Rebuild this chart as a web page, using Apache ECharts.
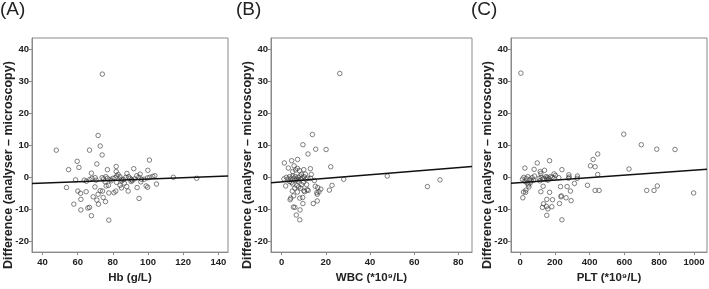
<!DOCTYPE html>
<html>
<head>
<meta charset="utf-8">
<script src="https://cdn.jsdelivr.net/npm/echarts@6/dist/echarts.min.js"></script>
<style>
  html, body { margin: 0; padding: 0; background: #fff; }
  #chart { width: 709px; height: 289px; }
</style>
</head>
<body>
<div id="chart"></div>
<script>
// panel titles and axis names
const panelTitles = ['(A)', '(B)', '(C)'];
const xNames = ['Hb (g/L)', 'WBC (*10⁹/L)', 'PLT (*10⁹/L)'];
const yName = 'Difference (analyser – microscopy)';

// tick labels
const yTicks = [-20, -10, 0, 10, 20, 30, 40];
const xTicksA = [40, 60, 80, 100, 120, 140];
const xTicksB = [0, 20, 40, 60, 80];
const xTicksC = [0, 200, 400, 600, 800, 1000];

// axis extents
const yRange = [-23.4, 43.6];
const xRangeA = [34, 145.5];
const xRangeB = [-4.85, 86.2];
const xRangeC = [-53, 1075];

// Hb vs difference
const hbPoints = [
  [74, 32.3], [47.8, 8.5], [66.7, 8.5], [71.6, 13.1], [72.8, 9.8], [73.9, 7.0], [70.9, 4.2],
  [59.7, 5.0], [60.7, 3.1], [54.8, 2.4], [100.8, 5.4], [91.9, 2.7], [81.9, 3.4], [81.9, 1.8],
  [76.9, 2.4], [67.8, 1.3], [99.9, 2.2], [58.8, -0.8], [63.7, -0.9], [66.9, -0.7], [68.1, -0.3],
  [69.9, -0.1], [73.9, -0.1], [74.7, -0.5], [76.0, 0.2], [76.9, -0.3], [78.5, -0.7], [80, -0.3],
  [81.3, -0.1], [82.3, 0.4], [83, 0.9], [84, 0.2], [84.9, -0.6], [86, -0.7], [87.4, 0],
  [88.9, 0.2], [89.7, -0.3], [90.6, -0.7], [92.3, -0.5], [93.6, 0.5], [94.8, 0], [96.3, -0.6],
  [97.8, -0.6], [99.7, -0.2], [101, 0], [102.7, 0.3], [103.9, 0.5], [114.4, 0], [127.7, -0.3],
  [53.6, -3.2], [60.1, -4.3], [61.6, -5.0], [61.8, -6.9], [64.8, -4.5], [57.8, -8.4], [61.8, -10.2],
  [65.8, -9.6], [66.7, -9.4], [67.8, -12], [77.7, -13.4], [68.8, -6.1], [69.8, -3.0], [70.9, -7.1],
  [71.6, -5.3], [71.8, -8.4], [72.8, -4.2], [74.1, -4.3], [74.5, -6.3], [75.8, -7.6], [76.2, -2.7],
  [77.5, -2.5], [77.7, -4.9], [80.6, -4.8], [81.7, -4.3], [84.1, -2.5], [84.9, -3.3], [87.9, -2.9],
  [88.7, -4.3], [90.4, -1.3], [93.8, -3.2], [94.9, -6.6], [95.9, -1.4], [98.9, -2.7], [99.8, -3.1],
  [104.8, -2.1], [75.6, -1.4], [82.1, -1.6], [79, -1.1], [86.5, -1.8], [91, -1.0], [70.5, -0.9],
  [65, -1.2], [95.5, 1.0], [88, 1.2], [85, -1.1]
];

// WBC vs difference
const wbcPoints = [
  [26.3, 32.5], [13.9, 13.4], [9.6, 10.2], [15.4, 8.8], [20.1, 8.7], [11.9, 7.3], [7.2, 5.6],
  [4.5, 5.2], [1.2, 4.5], [3.0, 2.9], [5.6, 3.6], [6.3, 2.3], [7.1, 2.8], [10, 2.4], [13, 2.7],
  [13.4, 0.9], [22.2, 3.3], [5.0, 1.8], [8.0, 2.1], [10.7, 1.0], [28.1, -0.6], [47.8, 0.4],
  [66, -2.9], [71.7, -0.8],
  [1.0, -0.5], [2.1, 0], [2.9, -0.5], [3.6, 0.2], [4.2, -0.5], [5.0, 0.4], [5.6, -0.3], [6.2, 0.2],
  [6.8, -0.6], [7.5, 0], [8.3, 0.4], [8.6, -0.6], [9.2, -0.2], [10.1, 0.2], [10.9, -0.6],
  [11.8, -0.3], [13.1, -0.3], [14.8, -1.0], [1.8, -2.7], [3.6, -1.3], [5.0, -2.1], [5.9, -3.4],
  [6.9, -2.6], [7.7, -3.0], [8.6, -3.4], [9.1, -2.3], [10, -4.2], [11.3, -2.3], [11.5, -3.9],
  [15.2, -2.8], [16.3, -3.2], [16.9, -4.5], [17.7, -3.7], [15.9, -4.8], [21.6, -4.0], [22.8, -2.5],
  [4.8, -4.3], [5.4, -5.8], [4.1, -6.5], [3.8, -7.0], [7.1, -4.6], [8.2, -6.5], [9.5, -6.3],
  [10.4, -4.5], [16.1, -5.3], [9.6, -8.2], [14.3, -8.2], [16.1, -7.4], [5.3, -9.3], [6.0, -9.4],
  [8.3, -10.2], [6.6, -11.8], [8.2, -13.3], [12, -4.1], [7.4, -1.2], [4.4, -1.6], [9.8, -1.5],
  [6.5, -0.9], [8.9, 0.9]
];

// PLT vs difference
const pltPoints = [
  [4, 32.6], [596, 13.5], [697, 10.2], [786, 8.8], [891, 8.7], [446, 7.3], [420, 5.6], [404, 3.6],
  [431, 3.3], [446, 0.9], [626, 2.6], [169, 5.2], [98, 4.5], [27, 2.9], [80, 2.5], [240, 2.4],
  [140, 2.2], [115, 1.8], [119, 1.2], [195, 1.1], [280, 0.8], [282, 0.1], [329, 0.4],
  [387, -2.5], [431, -4.1], [454, -4.1], [728, -4.1], [770, -4.1], [789, -2.7], [998, -4.9],
  [15, -6.4], [240, -13.3], [153, -11.9], [293, -7.3], [236, -5.8], [235, -6.1], [33, -4.0],
  [31, -4.7], [19, -4.6], [50, -3.0], [57, -1.8], [13, -0.6], [21, 0], [34, -0.4], [44, 0.2],
  [56, -0.6], [69, -0.1], [77, -0.9], [82, 0.4], [109, -0.3], [121, 0], [130, -0.5], [148, 0.2],
  [157, 0], [165, -0.4], [174, 0.2], [184, 0], [194, -0.3], [203, 0.6], [222, -0.1], [278, -0.3],
  [328, -0.3], [132, -2.8], [119, -4.5], [169, -4.7], [232, -2.9], [270, -2.9], [289, -4.3],
  [312, -1.9], [153, -6.9], [186, -7.0], [264, -6.4], [151, -9.1], [134, -8.3], [128, -9.4],
  [182, -9.2], [226, -8.2], [159, -9.9], [27, -1.3], [40, -1.8], [63, -1.1], [138, -0.4],
  [160, -0.9], [152, -0.6], [47, -2.4], [113, -1.1]
];

// fitted lines, end points at the frame edges
const fitA = [[34, -1.95], [145.5, 0.4]];
const fitB = [[-4.85, -1.7], [86.2, 3.4]];
const fitC = [[-53, -1.85], [1075, 2.55]];

const font = 'Liberation Sans';
const tickFont = 'Liberation Sans Narrow, Liberation Sans';
const axisGray = '#8a8a8a';
const textCol = '#222';

const grids = [
  { left: 32, right: 481, top: 38, bottom: 33 },
  { left: 271, right: 237, top: 38, bottom: 33 },
  { left: 511, right: 2, top: 38, bottom: 33 }
];

function xAxisFor (i, range, ticks) {
  return {
    type: 'value',
    gridIndex: i,
    min: range[0],
    max: range[1],
    name: xNames[i],
    nameLocation: 'middle',
    nameGap: 19,
    nameTextStyle: { fontFamily: font, fontWeight: 'bold', fontSize: 11.5, color: textCol },
    axisLine: { show: true, onZero: false, lineStyle: { color: axisGray } },
    axisTick: { show: true, length: 3, customValues: ticks, lineStyle: { color: axisGray } },
    axisLabel: {
      customValues: ticks, margin: 5,
      formatter: v => String(v),
      fontFamily: tickFont, fontWeight: 'bold', fontSize: 9.5, color: textCol
    },
    splitLine: { show: false }
  };
}

function yAxisFor (i) {
  return {
    type: 'value',
    gridIndex: i,
    min: yRange[0],
    max: yRange[1],
    name: yName,
    nameLocation: 'middle',
    nameGap: 17,
    nameMoveOverlap: false,
    nameTextStyle: {
      fontFamily: font, fontWeight: 'bold', fontSize: 12.5, color: textCol,
      padding: [0, 40, 0, 0]
    },
    axisLine: { show: true, onZero: false, lineStyle: { color: axisGray } },
    axisTick: { show: true, length: 3, customValues: yTicks, lineStyle: { color: axisGray } },
    axisLabel: {
      customValues: yTicks, margin: 3,
      formatter: v => String(v),
      fontFamily: tickFont, fontWeight: 'bold', fontSize: 9.5, color: textCol
    },
    splitLine: { show: false }
  };
}

function scatter (i, data) {
  return {
    type: 'scatter',
    xAxisIndex: i,
    yAxisIndex: i,
    data: data,
    symbol: 'circle',
    symbolSize: 4.5,
    itemStyle: { color: 'rgba(0,0,0,0)', borderColor: '#3a3a3a', borderWidth: 0.8 },
    z: 2
  };
}

function fit (i, data) {
  return {
    type: 'line',
    xAxisIndex: i,
    yAxisIndex: i,
    data: data,
    showSymbol: false,
    lineStyle: { color: '#111', width: 1.6 },
    z: 3
  };
}

const chart = echarts.init(document.getElementById('chart'), null, { renderer: 'canvas' });
chart.setOption({
  animation: false,
  backgroundColor: '#fff',
  title: [
    { text: panelTitles[0], left: 0, top: 0 },
    { text: panelTitles[1], left: 236, top: 0 },
    { text: panelTitles[2], left: 471, top: 0 }
  ].map(t => Object.assign(t, {
    padding: 0,
    textStyle: { fontFamily: font, fontWeight: 'normal', fontSize: 19, color: textCol }
  })),
  grid: grids.map(g => Object.assign(g, { show: true, borderColor: axisGray, borderWidth: 1, containLabel: false })),
  xAxis: [
    xAxisFor(0, xRangeA, xTicksA),
    xAxisFor(1, xRangeB, xTicksB),
    xAxisFor(2, xRangeC, xTicksC)
  ],
  yAxis: [yAxisFor(0), yAxisFor(1), yAxisFor(2)],
  series: [
    scatter(0, hbPoints), scatter(1, wbcPoints), scatter(2, pltPoints),
    fit(0, fitA), fit(1, fitB), fit(2, fitC)
  ]
});
</script>
</body>
</html>
